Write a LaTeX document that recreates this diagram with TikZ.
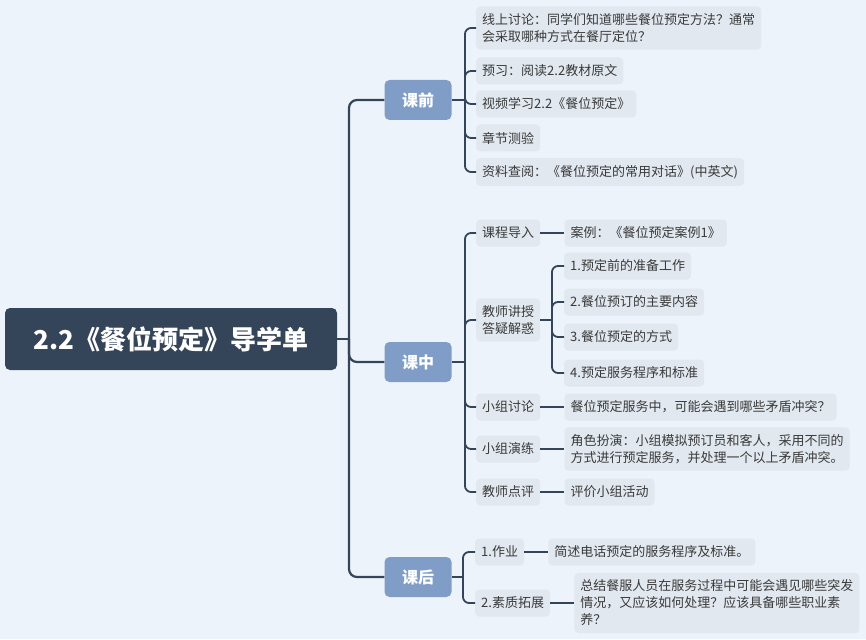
\documentclass[tikz,border=0pt]{standalone}
\usepackage{fontspec}
\setmainfont{Noto Sans CJK SC}
\usepackage{xcolor}
\usetikzlibrary{positioning}
\definecolor{bgblue}{HTML}{EDF3FA}
\definecolor{rootfill}{HTML}{344459}
\definecolor{catfill}{HTML}{7F9DC7}
\definecolor{leaffill}{HTML}{E1E8F0}
\definecolor{inkgray}{HTML}{3A3A3A}

\begin{document}
\begin{tikzpicture}[
  x=1pt, y=-1pt,
  node distance=0pt and 24pt,
  root/.style={fill=rootfill, text=white, rounded corners=5pt, minimum width=332pt, minimum height=62pt, font=\fontsize{26}{30}\selectfont\bfseries},
  cat/.style={fill=catfill, text=white, rounded corners=5pt, minimum width=67pt, minimum height=40pt, font=\fontsize{16}{20}\selectfont\bfseries},
  leaf/.style={fill=leaffill, text=inkgray, rounded corners=4pt, align=left, inner xsep=6pt, inner ysep=7pt, minimum height=27pt, font=\fontsize{13}{17}\selectfont},
  link/.style={draw=rootfill, line width=1.8pt, rounded corners=6pt},
  trunk/.style={link, line width=2.2pt, rounded corners=8pt}
]
\path[use as bounding box, fill=bgblue] (0,0) rectangle (866,639);

\node[root] (guide) at (171,339) {2.2《餐位预定》导学单};
\node[cat] (pre) at (418,100) {课前};
\node[cat] (inclass) at (418,362) {课中};
\node[cat] (post) at (418,577) {课后};

\coordinate (trunkj) at (349,339);
\draw[trunk] (guide.east) -- (trunkj);
\draw[trunk] (trunkj) |- (pre.west);
\draw[trunk] (trunkj) |- (inclass.west);
\draw[trunk] (trunkj) |- (post.west);

\node[leaf, anchor=west] (discuss) at (476,28) {线上讨论：同学们知道哪些餐位预定方法？通常\\会采取哪种方式在餐厅定位？};
\node[leaf, anchor=west] (preview) at (476,71) {预习：阅读2.2教材原文};
\node[leaf, anchor=west] (video) at (476,104) {视频学习2.2《餐位预定》};
\node[leaf, anchor=west] (quiz) at (476,138) {章节测验};
\node[leaf, anchor=west] (lookup) at (476,172) {资料查阅：《餐位预定的常用对话》(中英文)};
\coordinate (prej) at (465,100);
\draw[link] (pre.east) -- (prej);
\draw[link] (prej) |- (discuss.west);
\draw[link] (prej) |- (preview.west);
\draw[link] (prej) |- (video.west);
\draw[link] (prej) |- (quiz.west);
\draw[link] (prej) |- (lookup.west);

\node[leaf, anchor=west] (intro) at (476,233) {课程导入};
\node[leaf, right=of intro] (caseA) {案例：《餐位预定案例1》};
\node[leaf, anchor=west] (lecture) at (476,320) {教师讲授\\答疑解惑};
\node[leaf, anchor=west] (prep) at (564,266) {1.预定前的准备工作};
\node[leaf, anchor=west] (content) at (564,302) {2.餐位预订的主要内容};
\node[leaf, anchor=west] (ways) at (564,337) {3.餐位预定的方式};
\node[leaf, anchor=west] (procedure) at (564,373) {4.预定服务程序和标准};
\node[leaf, anchor=west] (groupdisc) at (476,407) {小组讨论};
\node[leaf, right=of groupdisc] (conflict) {餐位预定服务中，可能会遇到哪些矛盾冲突？};
\node[leaf, anchor=west] (drill) at (476,449) {小组演练};
\node[leaf, right=of drill] (roleplay) {角色扮演：小组模拟预订员和客人，采用不同的\\方式进行预定服务，并处理一个以上矛盾冲突。};
\node[leaf, anchor=west] (review) at (476,492) {教师点评};
\node[leaf, right=of review] (evaluate) {评价小组活动};
\coordinate (inclassj) at (465,362);
\draw[link] (inclass.east) -- (inclassj);
\draw[link] (inclassj) |- (intro.west);
\draw[link] (inclassj) |- (lecture.west);
\draw[link] (inclassj) |- (groupdisc.west);
\draw[link] (inclassj) |- (drill.west);
\draw[link] (inclassj) |- (review.west);
\draw[link] (intro) -- (caseA);
\draw[link] (groupdisc) -- (conflict);
\draw[link] (drill) -- (roleplay);
\draw[link] (review) -- (evaluate);
\coordinate (lecturej) at (552,320);
\draw[link] (lecture.east) -- (lecturej);
\draw[link] (lecturej) |- (prep.west);
\draw[link] (lecturej) |- (content.west);
\draw[link] (lecturej) |- (ways.west);
\draw[link] (lecturej) |- (procedure.west);

\node[leaf, anchor=west] (homework) at (475,552) {1.作业};
\node[leaf, right=of homework] (summary) {简述电话预定的服务程序及标准。};
\node[leaf, anchor=west] (extend) at (475,603) {2.素质拓展};
\node[leaf, right=of extend] (reflect) {总结餐服人员在服务过程中可能会遇见哪些突发\\情况，又应该如何处理？应该具备哪些职业素\\养？};
\coordinate (postj) at (463,577);
\draw[link] (post.east) -- (postj);
\draw[link] (postj) |- (homework.west);
\draw[link] (postj) |- (extend.west);
\draw[link] (homework) -- (summary);
\draw[link] (extend) -- (reflect);
\end{tikzpicture}
\end{document}
